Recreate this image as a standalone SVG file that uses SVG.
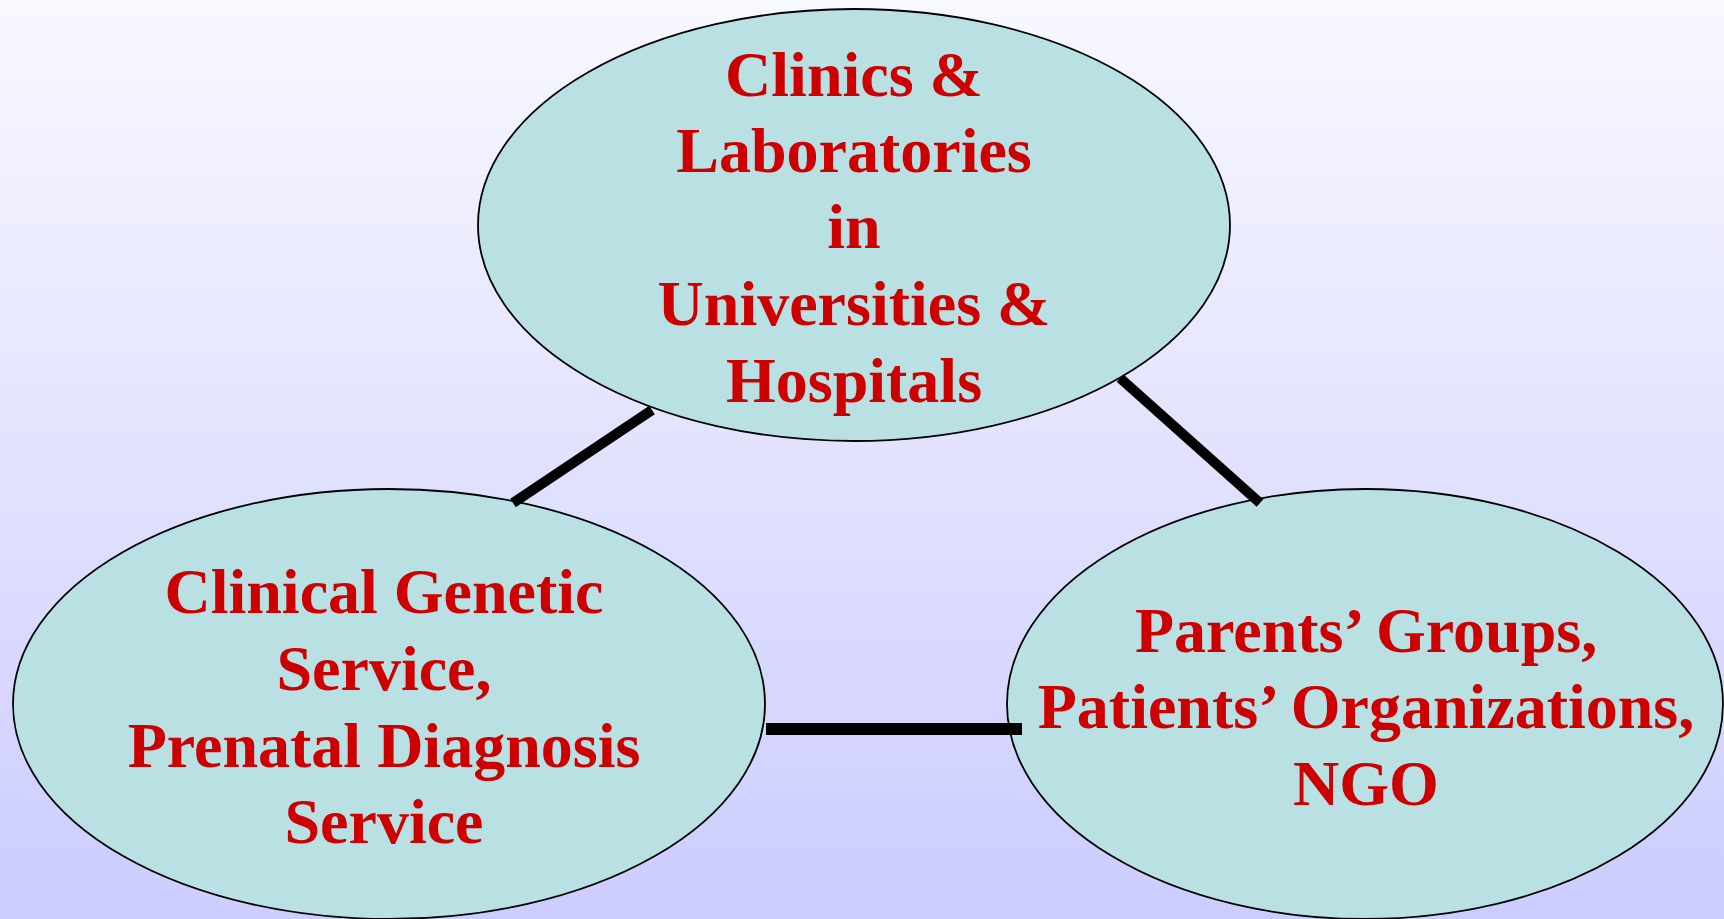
<svg xmlns="http://www.w3.org/2000/svg" width="1724" height="919" viewBox="0 0 1724 919">
<defs>
<linearGradient id="bg" x1="0" y1="0" x2="0" y2="1">
<stop offset="0" stop-color="#F8F8FF"/>
<stop offset="1" stop-color="#CCCCFF"/>
</linearGradient>
</defs>
<style>
.node{fill:#B9E0E3;stroke:#000;stroke-width:1.8}
.lbl{font-family:"Liberation Serif","Times New Roman",serif;font-weight:bold;font-size:64px;fill:#CC0000;text-anchor:middle}
.conn{stroke:#000;stroke-linecap:butt}
</style>
<rect x="0" y="0" width="1724" height="919" fill="url(#bg)"/>
<g id="node-clinics">
<ellipse class="node" cx="854" cy="225" rx="376" ry="216"/>
<text class="lbl" x="854" y="96">Clinics &amp;</text>
<text class="lbl" x="854" y="172">Laboratories</text>
<text class="lbl" x="854" y="248">in</text>
<text class="lbl" x="854" y="325">Universities &amp;</text>
<text class="lbl" x="854" y="402">Hospitals</text>
</g>
<g id="node-clinical">
<ellipse class="node" cx="389" cy="704" rx="376" ry="215"/>
<text class="lbl" x="384" y="613">Clinical Genetic</text>
<text class="lbl" x="384" y="690">Service,</text>
<text class="lbl" x="384" y="767">Prenatal Diagnosis</text>
<text class="lbl" x="384" y="843">Service</text>
</g>
<g id="node-parents">
<ellipse class="node" cx="1365" cy="704" rx="358" ry="215"/>
<text class="lbl" x="1366" y="652">Parents’ Groups,</text>
<text class="lbl" x="1366" y="728">Patients’ Organizations,</text>
<text class="lbl" x="1366" y="805">NGO</text>
</g>
<g id="connectors">
<line class="conn" x1="652" y1="410" x2="513" y2="503" stroke-width="10"/>
<line class="conn" x1="1120" y1="378" x2="1260" y2="503" stroke-width="10"/>
<line class="conn" x1="766" y1="729" x2="1022" y2="729" stroke-width="12"/>
</g>
</svg>
